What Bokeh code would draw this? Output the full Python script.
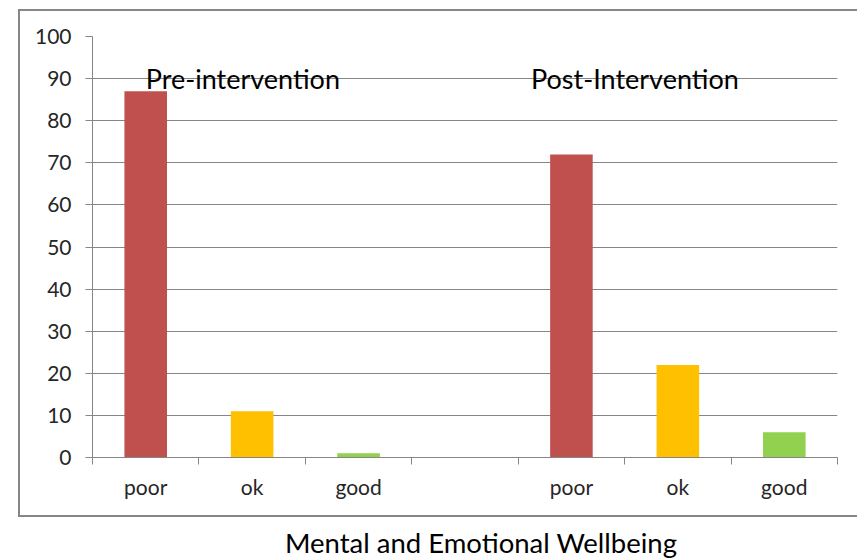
from bokeh.plotting import figure
from bokeh.models import FixedTicker, Range1d, ColumnDataSource, Label, Div
from bokeh.layouts import column
from bokeh.embed import file_html
from bokeh.resources import INLINE

categories = ["poor", "ok", "good", "", "poor", "ok", "good"]
values = [87, 11, 1, None, 72, 22, 6]
category_colors = {"poor": "#C0504D", "ok": "#FFC000", "good": "#92D050"}
group_labels = ["Pre-intervention", "Post-Intervention"]
y_ticks = list(range(0, 101, 10))
title_text = "Mental and Emotional Wellbeing"

FONT = "Lato"
GRID = "#868686"

xs, tops, cols = [], [], []
for i, (c, v) in enumerate(zip(categories, values)):
    if v is None:
        continue
    xs.append(i + 0.5)
    tops.append(v)
    cols.append(category_colors[c])
src = ColumnDataSource(dict(x=xs, top=tops, color=cols))

border = "2px solid " + GRID
p = figure(width=839, height=508, output_backend="svg", toolbar_location=None,
           x_range=Range1d(0, len(categories)), y_range=Range1d(0, 100),
           min_border_left=72, min_border_right=22, min_border_top=25, min_border_bottom=62,
           margin=(9, 0, 0, 18),
           styles={"border-left": border, "border-top": border, "border-bottom": border})
p.outline_line_color = None
p.background_fill_color = "white"
p.border_fill_color = "white"

p.vbar(x="x", top="top", width=0.4, color="color", line_color=None, source=src)

# x axis: labels at centers, tick marks at category boundaries
p.xaxis.ticker = FixedTicker(ticks=[i + 0.5 for i in range(len(categories))],
                             minor_ticks=list(range(len(categories) + 1)))
p.xaxis.major_label_overrides = {i + 0.5: c for i, c in enumerate(categories)}
p.xaxis.major_tick_line_color = None
p.xaxis.minor_tick_line_color = GRID
p.xaxis.minor_tick_out = 7
p.xaxis.minor_tick_in = 0
p.xaxis.axis_line_color = GRID
p.xaxis.major_label_text_font = FONT
p.xaxis.major_label_text_font_size = "21px"
p.xaxis.major_label_text_color = "#262626"
p.xaxis.major_label_standoff = 9

p.yaxis.ticker = FixedTicker(ticks=y_ticks)
p.yaxis.minor_tick_line_color = None
p.yaxis.major_tick_line_color = GRID
p.yaxis.major_tick_out = 7
p.yaxis.major_tick_in = 0
p.yaxis.axis_line_color = GRID
p.yaxis.major_label_text_font = FONT
p.yaxis.major_label_text_font_size = "21px"
p.yaxis.major_label_text_color = "#262626"
p.yaxis.major_label_standoff = 14

p.xgrid.grid_line_color = None
p.ygrid.ticker = FixedTicker(ticks=y_ticks)
p.ygrid.grid_line_color = GRID
p.ygrid.grid_line_width = 1

p.add_layout(Label(x=0.5, y=90, text=group_labels[0], text_font=FONT,
                   text_font_size="27px", text_baseline="middle", text_align="left",
                   text_color="black"))
p.add_layout(Label(x=4.12, y=90, text=group_labels[1], text_font=FONT,
                   text_font_size="27px", text_baseline="middle", text_align="left",
                   text_color="black"))

title = Div(text=title_text, width=700, height=30, margin=(11, 0, 0, 131),
            styles={"font-family": FONT, "font-size": "27.5px", "line-height": "30px",
                    "color": "black", "text-align": "center", "white-space": "nowrap"})

layout = column(p, title)
open("out.html", "w").write(file_html(layout, INLINE))
